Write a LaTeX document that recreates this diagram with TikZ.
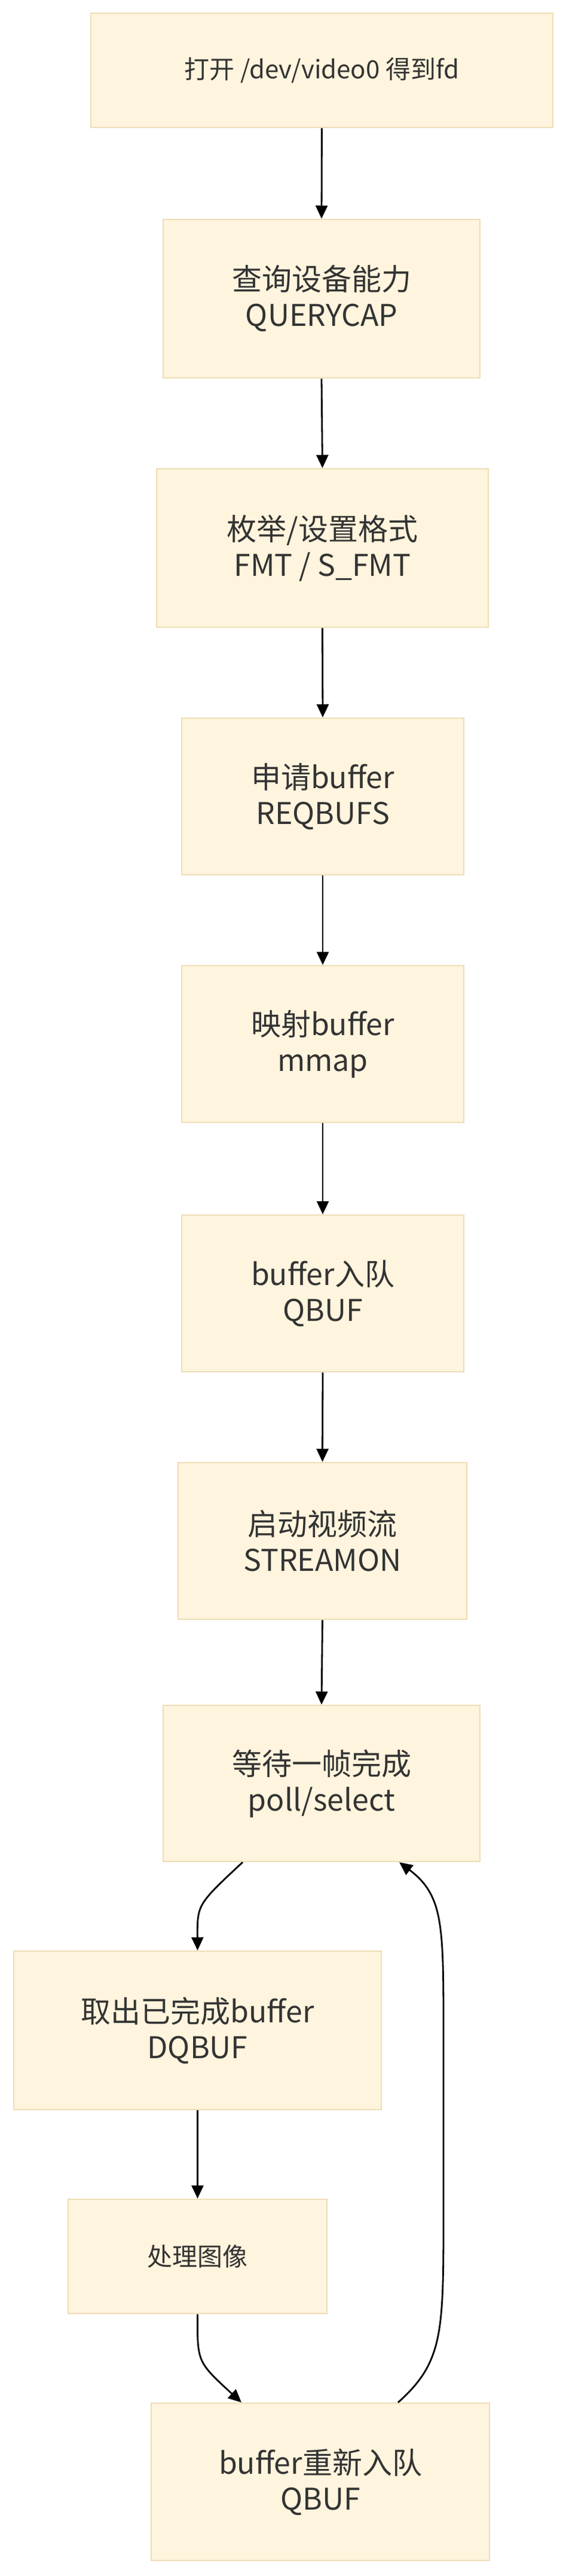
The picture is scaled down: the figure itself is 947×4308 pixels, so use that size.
\documentclass[tikz,border=0pt]{standalone}
\usepackage{fontspec}
\setmainfont{Noto Sans CJK SC}
\usetikzlibrary{arrows.meta}
\definecolor{bfill}{HTML}{FFF4DD}
\definecolor{bdraw}{HTML}{EEDDB5}
\definecolor{txt}{HTML}{333333}
\begin{document}
\begin{tikzpicture}[x=1pt,y=-1pt,
 box/.style={draw=bdraw,line width=2.5pt,fill=bfill,text=txt,align=center,inner sep=0pt,font=\fontsize{50}{60}\selectfont},
 arr/.style={line width=2.8pt,-{Triangle[length=22pt,width=20pt]}}]
\useasboundingbox (0,0) rectangle (947,4308);
\newcommand\bx[6]{\node[box,minimum width=#3-#2,minimum height=#5-#4] (#1) at ({(#2+#3)/2},{(#4+#5)/2}) {#6};}
\bx{b1}{152}{925}{22}{213}{\fontsize{42}{50}\selectfont 打开 /dev/video0 得到fd}
\bx{b2}{273}{803}{367}{632}{查询设备能力\\QUERYCAP}
\bx{b3}{262}{817}{784}{1049}{枚举/设置格式\\FMT / S\_FMT}
\bx{b4}{304}{776}{1201}{1463}{申请buffer\\REQBUFS}
\bx{b5}{304}{776}{1615}{1877}{映射buffer\\mmap}
\bx{b6}{304}{776}{2032}{2294}{buffer入队\\QBUF}
\bx{b7}{298}{781}{2446}{2708}{启动视频流\\STREAMON}
\bx{b8}{273}{803}{2852}{3113}{等待一帧完成\\poll/select}
\bx{b9}{23}{638}{3263}{3528}{取出已完成buffer\\DQBUF}
\bx{b10}{114}{547}{3678}{3869}{\fontsize{42}{50}\selectfont 处理图像}
\bx{b11}{253}{819}{4019}{4282}{buffer重新入队\\QBUF}
\foreach \p/\q in {b1/b2,b2/b3,b3/b4,b4/b5,b5/b6,b6/b7,b7/b8}
  \draw[arr] (\p.south) -- (\q.north);
\draw[arr] (b9.south) -- (b10.north);
\draw[arr] ([xshift=-132pt]b8.south) .. controls (330,3185) .. (b9.north);
\draw[arr] (b10.south) .. controls (330,3950) .. ([xshift=-132pt]b11.north);
\draw[arr] ([xshift=130pt]b11.north) .. controls (742,3950) and (742,3900) .. (742,3700) -- (742,3400) .. controls (742,3220) and (742,3170) .. ([xshift=130pt]b8.south);
\end{tikzpicture}
\end{document}
